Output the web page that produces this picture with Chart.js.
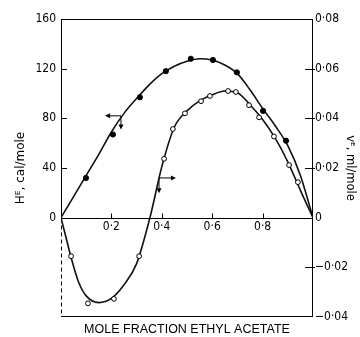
<!DOCTYPE html>
<html>
<head>
<meta charset="utf-8">
<script src="https://cdn.jsdelivr.net/npm/chart.js@4.4.1/dist/chart.umd.min.js"></script>
<style>
html, body { margin: 0; padding: 0; background: #fff; }
</style>
</head>
<body>
<canvas id="heChart" width="360" height="337"></canvas>
<script>
// measured points, x = mole fraction of ethyl acetate
var hX   = [0.099, 0.206, 0.313, 0.416, 0.515, 0.603, 0.698, 0.802, 0.893];
var hVal = [32, 67, 97, 118, 128, 127, 117, 86, 62];

var vX   = [0.04, 0.107, 0.21, 0.31, 0.409, 0.444, 0.492, 0.556, 0.591, 0.663, 0.694, 0.746, 0.786, 0.845, 0.905, 0.94];
var vVal = [-0.0155, -0.0345, -0.0327, -0.0155, 0.0237, 0.0357, 0.042, 0.0469, 0.049, 0.051, 0.0506, 0.0453, 0.0404, 0.0327, 0.0212, 0.0143];

// smooth curves as drawn through the points
var hCurveX = [0, 0.05, 0.1, 0.15, 0.2, 0.25, 0.3, 0.35, 0.4, 0.45, 0.5, 0.55, 0.6, 0.65, 0.7, 0.75, 0.8, 0.85, 0.9, 0.95, 1];
var hCurve  = [0, 17, 34, 51, 69, 84, 96, 107, 116, 122, 126, 128, 127, 123, 116, 103, 88, 74, 58, 34, 0];

var vCurveX = [0, 0.02, 0.04, 0.07, 0.1, 0.15, 0.2, 0.25, 0.3, 0.353, 0.4, 0.45, 0.5, 0.55, 0.6, 0.65, 0.7, 0.75, 0.8, 0.85, 0.9, 0.95, 1];
var vCurve  = [0, -0.008, -0.016, -0.026, -0.0315, -0.0342, -0.0325, -0.027, -0.0185, 0, 0.0205, 0.0365, 0.043, 0.047, 0.0495, 0.051, 0.0503, 0.0455, 0.0395, 0.032, 0.0225, 0.011, 0];

// tick values
var xTicks = [0.2, 0.4, 0.6, 0.8];
var hTicks = [0, 40, 80, 120, 160];
var vTicks = [-0.04, -0.02, 0, 0.02, 0.04, 0.06, 0.08];

// the little axis pointers on each curve (data units)
var hPointer = { x: 0.238, y: 82, leftTo: 0.175, downTo: 71 };
var vPointer = { x: 0.389, y: 0.016, rightTo: 0.456, downTo: 0.0098 };

function pairs(xs, ys) {
    return xs.map(function (x, i) { return { x: x, y: ys[i] }; });
}

function fmtDot(v) {
    if (v === 0) return '0';
    var s = Math.abs(v).toString().replace('.', '\u00b7');
    return (v < 0 ? '\u2212' : '') + s;
}

var numFont = { family: "'Liberation Sans Narrow','DejaVu Sans Condensed','Liberation Sans',sans-serif", size: 12 };

function arrowHead(ctx, x, y, dir) {
    ctx.beginPath();
    if (dir === 'left') { ctx.moveTo(x, y); ctx.lineTo(x + 5, y - 2.5); ctx.lineTo(x + 5, y + 2.5); }
    if (dir === 'right') { ctx.moveTo(x, y); ctx.lineTo(x - 5, y - 2.5); ctx.lineTo(x - 5, y + 2.5); }
    if (dir === 'down') { ctx.moveTo(x, y); ctx.lineTo(x - 2.5, y - 5); ctx.lineTo(x + 2.5, y - 5); }
    ctx.closePath();
    ctx.fill();
}

var framePlugin = {
    id: 'frame',
    beforeDatasetsDraw: function (chart) {
        var ctx = chart.ctx, a = chart.chartArea;
        var sx = chart.scales.x, sy = chart.scales.y, sv = chart.scales.y1;
        var y0 = Math.round(sy.getPixelForValue(0)) + 0.5;
        ctx.save();
        ctx.strokeStyle = '#000';
        ctx.fillStyle = '#000';
        ctx.lineWidth = 1;
        ctx.beginPath();
        ctx.moveTo(a.left, a.top + 0.5); ctx.lineTo(a.right, a.top + 0.5);
        ctx.moveTo(a.right - 0.5, a.top); ctx.lineTo(a.right - 0.5, a.bottom);
        ctx.moveTo(a.left, a.bottom - 0.5); ctx.lineTo(a.right, a.bottom - 0.5);
        ctx.moveTo(a.left + 0.5, a.top); ctx.lineTo(a.left + 0.5, y0);
        ctx.moveTo(a.left, y0); ctx.lineTo(a.right, y0);
        // ticks
        hTicks.forEach(function (t) {
            if (t === 0 || t === 160) return;
            var p = Math.round(sy.getPixelForValue(t)) + 0.5;
            ctx.moveTo(a.left, p); ctx.lineTo(a.left + 6, p);
        });
        vTicks.forEach(function (t) {
            if (t === 0 || t === 0.08 || t === -0.04) return;
            var p = Math.round(sv.getPixelForValue(t)) + 0.5;
            ctx.moveTo(a.right - 8, p); ctx.lineTo(a.right + 2, p);
        });
        xTicks.forEach(function (t) {
            var p = Math.round(sx.getPixelForValue(t)) + 0.5;
            ctx.moveTo(p, y0); ctx.lineTo(p, y0 - 5);
        });
        ctx.stroke();
        // left axis below zero is broken
        ctx.beginPath();
        ctx.setLineDash([4, 3]);
        ctx.moveTo(a.left + 0.5, y0); ctx.lineTo(a.left + 0.5, a.bottom);
        ctx.stroke();
        ctx.setLineDash([]);

        // pointers
        var hx = sx.getPixelForValue(hPointer.x), hy = sy.getPixelForValue(hPointer.y);
        var hl = sx.getPixelForValue(hPointer.leftTo), hd = sy.getPixelForValue(hPointer.downTo);
        ctx.beginPath();
        ctx.moveTo(hx, hy); ctx.lineTo(hl + 3, hy);
        ctx.moveTo(hx, hy); ctx.lineTo(hx, hd - 3);
        ctx.stroke();
        arrowHead(ctx, hl, hy, 'left');
        arrowHead(ctx, hx, hd, 'down');

        var vx = sx.getPixelForValue(vPointer.x), vy = sv.getPixelForValue(vPointer.y);
        var vr = sx.getPixelForValue(vPointer.rightTo), vd = sv.getPixelForValue(vPointer.downTo);
        ctx.beginPath();
        ctx.moveTo(vx, vy); ctx.lineTo(vr - 3, vy);
        ctx.moveTo(vx, vy); ctx.lineTo(vx, vd - 3);
        ctx.stroke();
        arrowHead(ctx, vr, vy, 'right');
        arrowHead(ctx, vx, vd, 'down');
        ctx.restore();
    }
};

var ctx = document.getElementById('heChart').getContext('2d');
var chart = new Chart(ctx, {
    type: 'scatter',
    data: {
        datasets: [
            {
                label: 'HE points',
                data: pairs(hX, hVal),
                yAxisID: 'y',
                pointRadius: 2.6,
                pointBackgroundColor: '#000',
                pointBorderColor: '#000',
                showLine: false,
                order: 0
            },
            {
                label: 'VE points',
                data: pairs(vX, vVal),
                yAxisID: 'y1',
                pointRadius: 2.4,
                pointBackgroundColor: '#fff',
                pointBorderColor: '#000',
                pointBorderWidth: 1,
                showLine: false,
                order: 0
            },
            {
                label: 'HE curve',
                data: pairs(hCurveX, hCurve),
                yAxisID: 'y',
                showLine: true,
                pointRadius: 0,
                borderColor: '#111',
                borderWidth: 1.6,
                cubicInterpolationMode: 'monotone',
                order: 1
            },
            {
                label: 'VE curve',
                data: pairs(vCurveX, vCurve),
                yAxisID: 'y1',
                showLine: true,
                pointRadius: 0,
                borderColor: '#111',
                borderWidth: 1.6,
                cubicInterpolationMode: 'monotone',
                order: 1
            }
        ]
    },
    options: {
        responsive: false,
        animation: false,
        devicePixelRatio: 1,
        layout: { padding: { top: 19, left: 0, right: 0, bottom: 0 } },
        plugins: { legend: { display: false }, tooltip: { enabled: false } },
        scales: {
            x: {
                type: 'linear',
                position: { y: 0 },
                min: 0, max: 1,
                grid: { display: false, drawTicks: false },
                border: { display: false },
                afterBuildTicks: function (s) { s.ticks = xTicks.map(function (v) { return { value: v }; }); },
                ticks: {
                    autoSkip: false, maxRotation: 0, padding: 2,
                    color: '#000', font: numFont,
                    callback: function (v) { return fmtDot(v); }
                }
            },
            x2: {
                type: 'linear',
                position: 'bottom',
                min: 0, max: 1,
                grid: { display: false, drawTicks: false },
                border: { display: false },
                ticks: { display: false },
                title: {
                    display: true,
                    text: 'MOLE FRACTION ETHYL ACETATE',
                    color: '#000',
                    font: { family: "'Liberation Sans','DejaVu Sans',sans-serif", size: 12.5 },
                    padding: { top: 0, bottom: 0 }
                },
                afterFit: function (s) { s.height = 20; }
            },
            y: {
                position: 'left',
                min: -80, max: 160,
                grid: { display: false, drawTicks: false },
                border: { display: false },
                afterBuildTicks: function (s) { s.ticks = hTicks.map(function (v) { return { value: v }; }); },
                ticks: {
                    autoSkip: false, padding: 5,
                    color: '#000', font: numFont
                },
                title: {
                    display: true,
                    text: 'H\u1d31, cal/mole',
                    color: '#000',
                    font: { family: "'DejaVu Sans','Liberation Sans',sans-serif", size: 12 },
                    padding: { top: 14, bottom: 0 }
                },
                afterFit: function (s) { s.width = 61; }
            },
            y1: {
                position: 'right',
                min: -0.04, max: 0.08,
                grid: { display: false, drawTicks: false },
                border: { display: false },
                afterBuildTicks: function (s) { s.ticks = vTicks.map(function (v) { return { value: v }; }); },
                ticks: {
                    autoSkip: false, padding: 2,
                    color: '#000', font: numFont,
                    callback: function (v) { return fmtDot(v); }
                },
                title: {
                    display: true,
                    text: 'v\u1d31, ml/mole',
                    color: '#000',
                    font: { family: "'DejaVu Sans','Liberation Sans',sans-serif", size: 11.5 },
                    padding: { top: 3, bottom: 0 }
                },
                afterFit: function (s) { s.width = 47; }
            }
        }
    },
    plugins: [framePlugin]
});
</script>
</body>
</html>
